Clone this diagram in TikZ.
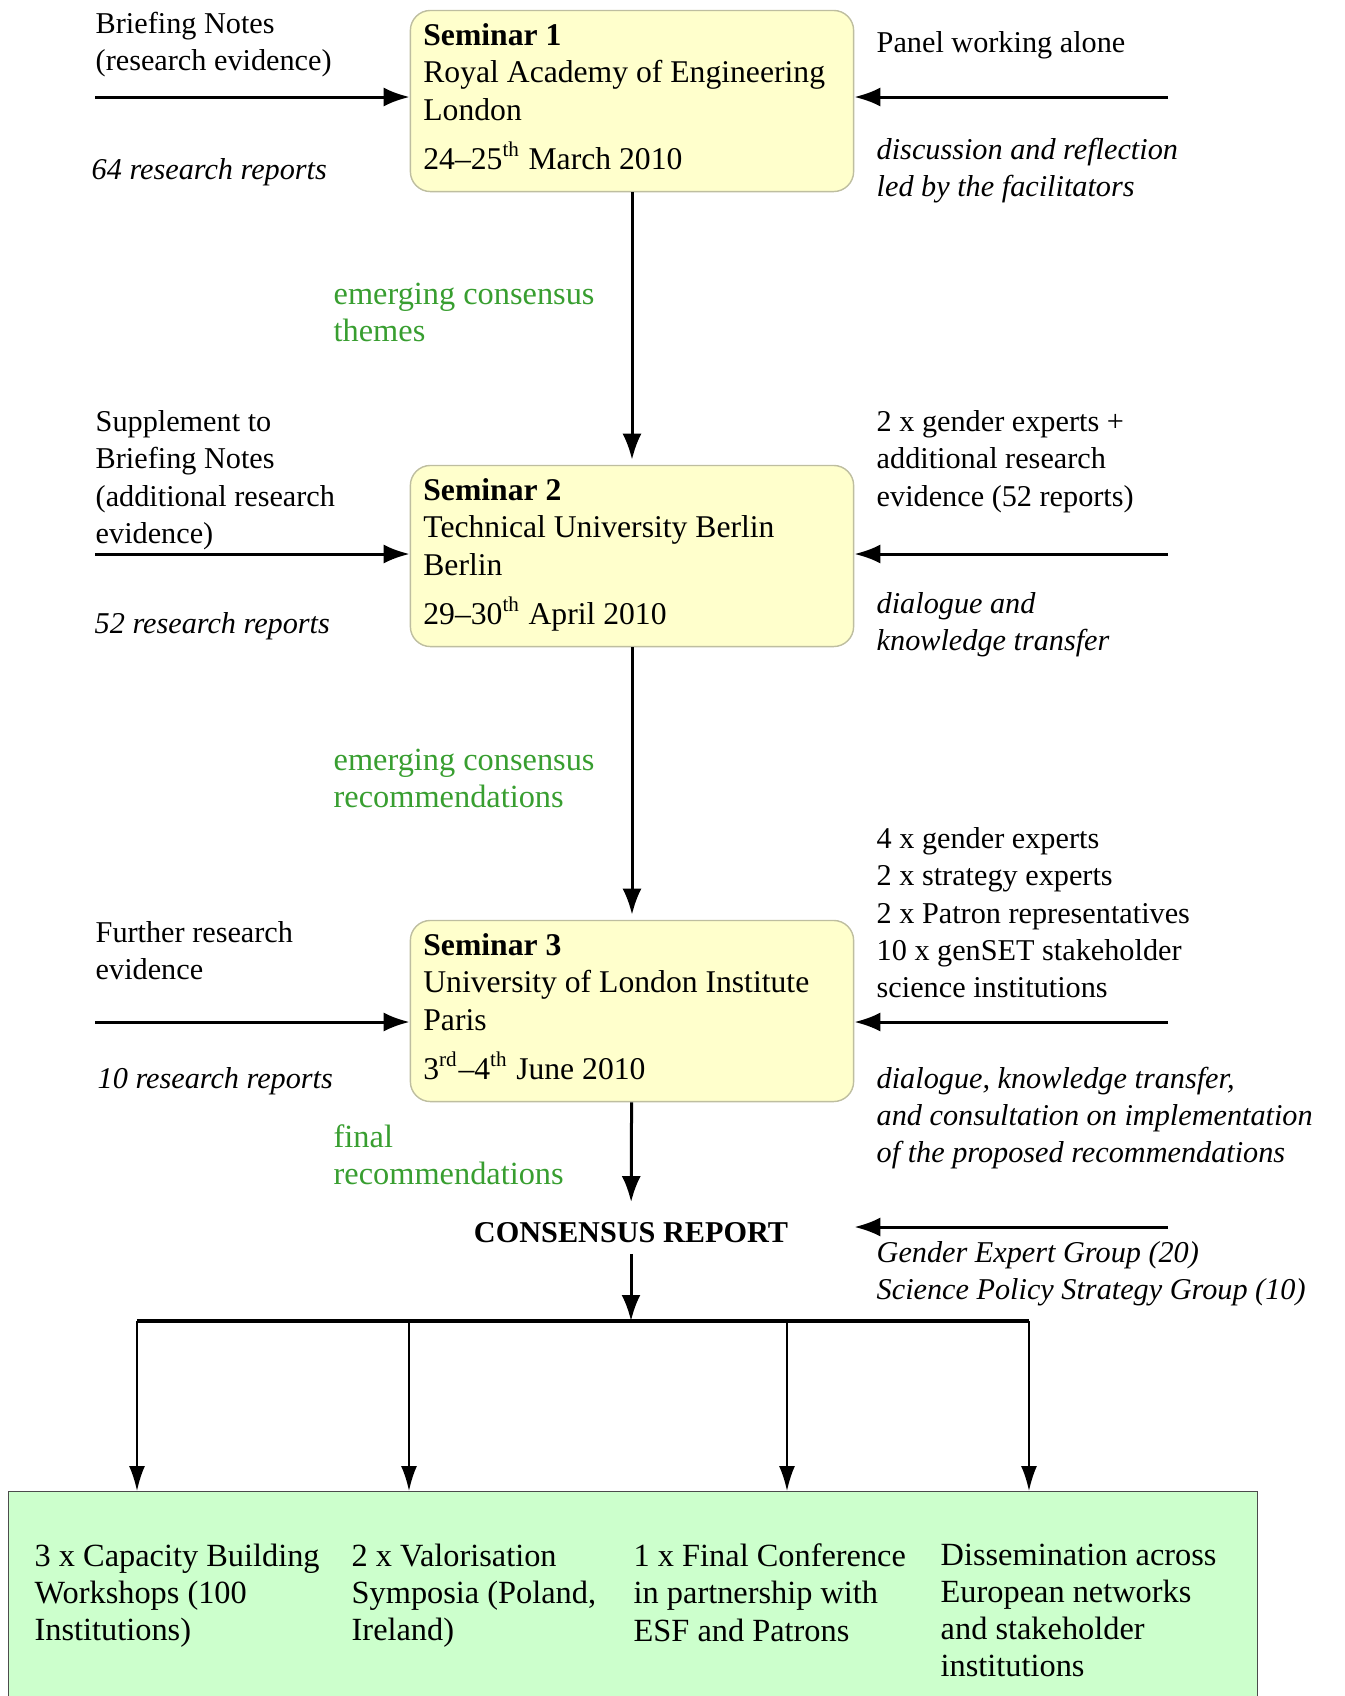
\documentclass[tikz,border=0pt]{standalone}
\usepackage{fontspec}
\setmainfont{Liberation Serif}
\usetikzlibrary{arrows.meta}

\definecolor{semyellow}{RGB}{255,255,204}
\definecolor{semedge}{RGB}{190,190,160}
\definecolor{outgreen}{RGB}{204,255,204}
\definecolor{flowgreen}{RGB}{56,158,48}

\begin{document}
\begin{tikzpicture}[x=0.01cm, y=-0.01cm,
  every node/.style={font=\fontsize{9.2}{10.6}\selectfont},
  seminar/.style={draw=semedge, fill=semyellow, rounded corners=0.2cm, minimum width=4.43cm, minimum height=1.81cm, text width=4.17cm, inner xsep=0.13cm, align=flush left, font=\fontsize{9}{10.6}\selectfont},
  txt/.style={anchor=north west, inner sep=0, yshift=-0.04cm, align=flush left, execute at begin node=\strut},
  side/.style={txt, font=\fontsize{8.6}{10.6}\selectfont},
  note/.style={txt, font=\fontsize{8.6}{10.6}\selectfont\itshape},
  flow/.style={txt, text=flowgreen},
  feed/.style={line width=0.03cm, -{Latex[length=0.26cm, width=0.19cm]}},
  branch/.style={line width=0.02cm, -{Latex[length=0.25cm, width=0.16cm]}}]
\useasboundingbox (0,0) rectangle (1344,1696);

% seminars
\node[seminar] (sem1) at (632,101) {\textbf{Seminar 1}\\Royal Academy of Engineering\\London\\[3.5pt]24--25\textsuperscript{th} March 2010\rule[-2.5pt]{0pt}{0pt}};
\node[seminar] (sem2) at (632,556) {\textbf{Seminar 2}\\Technical University Berlin\\Berlin\\[3.5pt]29--30\textsuperscript{th} April 2010\rule[-2.5pt]{0pt}{0pt}};
\node[seminar] (sem3) at (632,1011) {\textbf{Seminar 3}\\University of London Institute\\Paris\\[3.5pt]3\textsuperscript{rd}--4\textsuperscript{th} June 2010\rule[-2.5pt]{0pt}{0pt}};
\node[font=\fontsize{8.6}{10.6}\selectfont\bfseries, inner sep=0.1cm] (report) at (631,1233) {CONSENSUS REPORT};

% inputs from the left
\node[side] (brief1) at (95,7) {Briefing Notes\\(research evidence)};
\node[note] (rep1) at (91,149) {64 research reports};
\node[side] (brief2) at (95,406) {Supplement to\\Briefing Notes\\(additional research\\evidence)};
\node[note] (rep2) at (94,603) {52 research reports};
\node[side] (brief3) at (95,917) {Further research\\evidence};
\node[note] (rep3) at (97,1058) {10 research reports};

% panels on the right
\node[side] (panel1) at (876,22) {Panel working alone};
\node[note] (mode1) at (876,133) {discussion and reflection\\led by the facilitators};
\node[side] (panel2) at (876,406) {2 x gender experts +\\additional research\\evidence (52 reports)};
\node[note] (mode2) at (876,588) {dialogue and\\knowledge transfer};
\node[side] (panel3) at (876,823) {4 x gender experts\\2 x strategy experts\\2 x Patron representatives\\10 x genSET stakeholder\\science institutions};
\node[note] (mode3) at (876,1062) {dialogue, knowledge transfer,\\and consultation on implementation\\of the proposed recommendations};
\node[note] (groups) at (876,1237) {Gender Expert Group (20)\\Science Policy Strategy Group (10)};

% what passes down
\node[flow] (pass1) at (333,278) {emerging consensus\\themes};
\node[flow] (pass2) at (333,744) {emerging consensus\\recommendations};
\node[flow] (pass3) at (333,1120) {final\\recommendations};

\foreach \s/\y in {1/97, 2/554, 3/1022} {
  \coordinate (src\s) at (95,\y);
  \coordinate (pan\s) at (1168,\y);
  \draw[feed] (src\s) -- (src\s -| sem\s.west);
  \draw[feed] (pan\s) -- (pan\s -| sem\s.east);
}
\coordinate (pan4) at (1168,1227);
\draw[feed] (pan4) -- (pan4 -| sem3.east);

\draw[feed, shorten >=0.05cm] (sem1) -- (sem2);
\draw[feed, shorten >=0.05cm] (sem2) -- (sem3);
\draw[feed, shorten >=0.1cm] (sem3) -- (report);

% outcomes
\node[draw=black!70, fill=outgreen, anchor=north west, minimum width=12.48cm, minimum height=2.4cm] (out) at (8,1491) {};
\node[txt] (outa) at (34,1539) {3 x Capacity Building\\Workshops (100\\Institutions)};
\node[txt] (outb) at (351,1539) {2 x Valorisation\\Symposia (Poland,\\Ireland)};
\node[txt] (outc) at (633,1539) {1 x Final Conference\\in partnership with\\ESF and Patrons};
\node[txt] (outd) at (940,1539) {Dissemination across\\European networks\\and stakeholder\\institutions};

\coordinate (bar) at (631,1321);
\draw[feed] (report) -- (bar);
\foreach \i/\x in {1/137, 2/409, 3/787, 4/1029} {
  \coordinate (b\i) at (\x,1321);
  \draw[branch] (b\i) -- (b\i |- out.north);
}
\draw[line width=0.04cm] (b1) -- (b4);
\end{tikzpicture}
\end{document}
